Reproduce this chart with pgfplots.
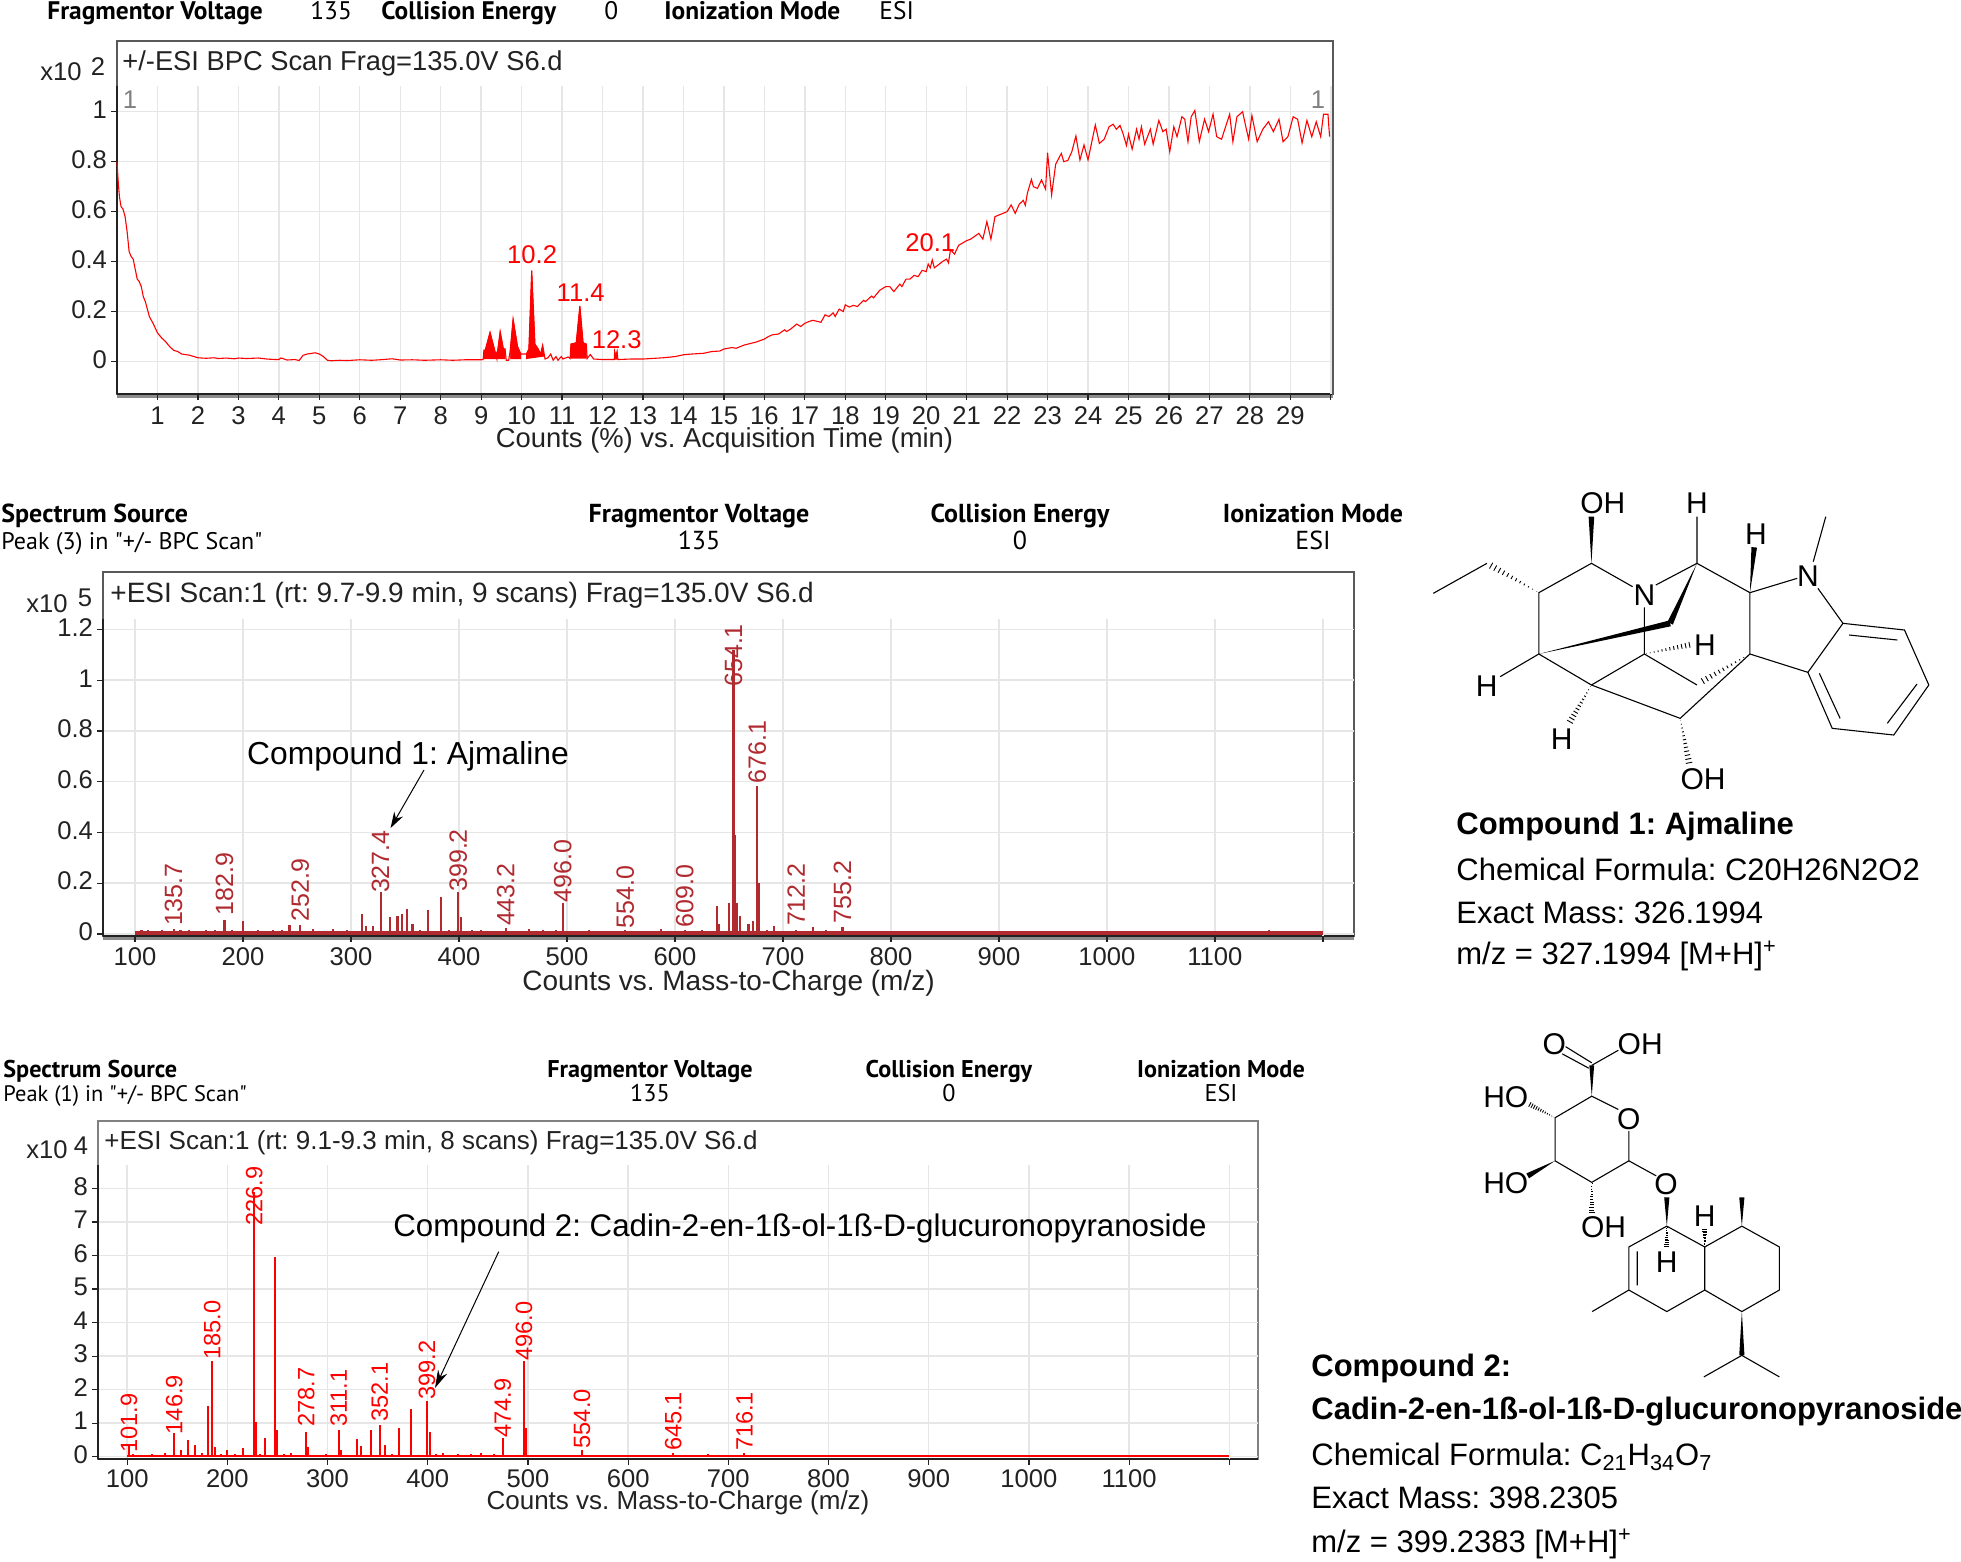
\documentclass[border=0pt]{standalone}
\usepackage{fontspec}
\setmainfont{Liberation Sans}
\newfontfamily\hdr{PT Sans}
\usepackage{pgfplots}
\pgfplotsset{compat=1.18}
\usetikzlibrary{calc,arrows.meta}
\frenchspacing
\definecolor{gridc}{HTML}{E6E6E6}
\definecolor{specred}{HTML}{B02A30}
\definecolor{txt}{HTML}{222222}
\newcommand{\fs}[1]{\fontsize{#1}{#1}\selectfont}
% bond helpers for the drawn structures
\newcommand{\hashb}[3]{\foreach \t in {0.04,0.12,...,0.98}{%
  \pgfmathsetmacro\w{\t*#3}%
  \coordinate (m) at ($(#1)!\t!(#2)$);%
  \draw[line width=.45pt] ($(m)!\w pt!90:(#2)$) -- ($(m)!\w pt!-90:(#2)$);}}
\newcommand{\wedgeb}[3]{\fill (#1) -- ($(#2)!#3pt!90:(#1)$) -- ($(#2)!#3pt!-90:(#1)$) -- cycle;}
\pgfplotsset{
  msaxis/.style={
    scale only axis,
    anchor=south west,
    axis x line*=bottom,
    axis y line*=left,
    clip=false,
    xmajorgrids, ymajorgrids,
    major grid style={gridc,line width=.7pt},
    tick align=outside,
    major tick length=3pt,
    tick style={txt,line width=.6pt},
    axis line style={txt,line width=1pt,-},
    scaled ticks=false,
    tick label style={font=\fs{12.8},text=txt},
    /pgf/number format/assume math mode=true,
    /pgf/number format/1000 sep={},
    yticklabel style={/pgf/number format/fixed,xshift=1.5pt,yshift=1pt},
  },
  peaklab/.style 2 args={
    draw=none, forget plot, only marks, mark size=0pt,
    nodes near coords, point meta=explicit symbolic,
    every node near coord/.append style={rotate=90,anchor=west,inner sep=1pt,font=\fs{#2},text=#1},
  },
}
\begin{document}
\begin{tikzpicture}
\useasboundingbox (0,0) rectangle (980.5pt,-781pt);
% frames with the title strips, pixel coordinates
\begin{scope}[x=.5pt,y=-.5pt]
\draw[black!65,line width=1pt] (116.5,41) rectangle (1333,394.5);
\draw[black!45,line width=1.6pt] (117,396.5) -- (1333,396.5);
\draw[black!65,line width=1pt] (102.5,571.5) rectangle (1354,936);
\draw[black!45,line width=1.6pt] (103,938) -- (1354,938);
\draw[black!50,line width=1pt] (98,1121) rectangle (1258,1459);
% header rows
\begin{scope}[every node/.style={inner sep=0pt,text=black,text height=9pt,text depth=3pt}]
\tikzset{h1/.style={font=\hdr\bfseries\fs{12.7}},r1/.style={font=\hdr\fs{12.7}},
  h2/.style={font=\hdr\bfseries\fs{13}},r2/.style={font=\hdr\fs{13}},
  h3/.style={font=\hdr\bfseries\fs{12.1}},r3/.style={font=\hdr\fs{12.1}}}
\node[anchor=west,h1] at (47,14) {Fragmentor Voltage};
\node[anchor=west,r1] at (310,14) {135};
\node[anchor=west,h1] at (381,14) {Collision Energy};
\node[anchor=west,r1] at (604,14) {0};
\node[anchor=west,h1] at (664,14) {Ionization Mode};
\node[anchor=west,r1] at (879,14) {ESI};
\node[anchor=west,h2] at (1,516) {Spectrum Source};
\node[anchor=west,font=\hdr\fs{12}] at (1,543) {Peak (3) in "+/- BPC Scan"};
\node[h2] at (699,516) {Fragmentor Voltage};
\node[r2] at (699,543) {135};
\node[h2] at (1020,516) {Collision Energy};
\node[r2] at (1020,543) {0};
\node[h2] at (1313,516) {Ionization Mode};
\node[r2] at (1313,543) {ESI};
\node[anchor=west,h3] at (3,1071) {Spectrum Source};
\node[anchor=west,font=\hdr\fs{11.2}] at (3,1095) {Peak (1) in "+/- BPC Scan"};
\node[h3] at (650,1071) {Fragmentor Voltage};
\node[r3] at (650,1095) {135};
\node[h3] at (949,1071) {Collision Energy};
\node[r3] at (949,1095) {0};
\node[h3] at (1221,1071) {Ionization Mode};
\node[r3] at (1221,1095) {ESI};
\end{scope}
% strip titles and the exponents
\begin{scope}[every node/.style={inner sep=0pt,text=txt,font=\fs{12.8}}]
\node[anchor=west,font=\fs{13.65}] at (122,63) {+/-ESI BPC Scan Frag=135.0V S6.d};
\node[anchor=west] at (40,72) {x10};
\node at (98,67) {2};
\node[anchor=west,font=\fs{14}] at (110,595) {+ESI Scan:1 (rt: 9.7-9.9 min, 9 scans) Frag=135.0V S6.d};
\node[anchor=west] at (26,604) {x10};
\node at (85,598) {5};
\node[anchor=west,font=\fs{13}] at (104,1143) {+ESI Scan:1 (rt: 9.1-9.3 min, 8 scans) Frag=135.0V S6.d};
\node[anchor=west] at (26,1150) {x10};
\node at (81,1146) {4};
\node[text=black!50] at (130,100) {1};
\node[text=black!50] at (1318,100) {1};
\end{scope}
\end{scope}

% chromatogram
\begin{axis}[msaxis,at={(58.5pt,-197pt)},width=607.5pt,height=154pt,
  xmin=0,xmax=30.03,ymin=-0.13,ymax=1.103,
  xtick={1,2,...,29},extra x ticks={30},extra x tick labels={},
  xticklabel style={yshift=0pt},
  ytick={0,0.2,0.4,0.6,0.8,1},
  yticklabels={0,0.2,0.4,0.6,0.8,1},
  xlabel={Counts (\%) vs. Acquisition Time (min)},
  xlabel style={yshift=11.5pt,font=\fs{13.7},text=txt}]
\addplot[red,line width=.55pt] coordinates {
(0,.80)(.03,.72)(.06,.66)(.1,.62)(.15,.61)(.2,.58)(.25,.52)(.3,.44)(.35,.42)(.4,.41)(.45,.37)(.5,.33)
(.55,.32)(.6,.30)(.65,.26)(.7,.24)(.75,.21)(.8,.18)(.9,.15)(1,.115)(1.1,.095)(1.2,.08)(1.3,.06)(1.4,.045)
(1.5,.04)(1.6,.03)(1.8,.025)(1.9,.02)(2,.015)(2.2,.013)(2.4,.015)(2.5,.012)(2.7,.014)(2.9,.011)(3,.014)(3.2,.012)
(3.5,.014)(3.7,.01)(3.9,.008)(4,.008)(4.05,.014)(4.1,.012)(4.2,.006)(4.4,.008)(4.5,.004)(4.6,.025)(4.7,.03)(4.9,.035)(5,.03)
(5.1,.02)(5.2,.005)(5.3,.003)(5.5,.005)(5.7,.004)(6,.007)(6.3,.005)(6.5,.007)(6.8,.011)(7,.006)(7.3,.007)(7.6,.005)
(8,.007)(8.3,.005)(8.6,.007)(9,.007)(9.05,.008)(9.07,.045)(9.1,.045)(9.22,.117)(9.36,.03)(9.39,.01)(9.41,.045)
(9.47,.12)(9.55,.05)(9.59,.05)(9.62,.005)(9.68,.005)(9.72,.045)(9.79,.17)(9.9,.06)(9.98,.03)(10.05,.03)
(10.12,.03)(10.18,.05)(10.25,.364)(10.33,.07)(10.41,.05)(10.47,.03)(10.52,.065)(10.58,.01)(10.65,.015)
(10.72,.03)(10.78,.005)(10.85,.02)(10.9,.005)(10.98,.02)(11.02,.01)(11.15,.018)(11.2,.012)(11.22,.07)
(11.35,.075)(11.44,.223)(11.52,.075)(11.6,.07)(11.62,.012)(11.7,.028)(11.78,.01)(12,.008)(12.29,.008)
(12.3,.04)(12.33,.02)(12.36,.04)(12.38,.008)(12.7,.01)(13,.01)(13.3,.013)(13.5,.015)(13.8,.02)(14,.027)(14.2,.03)
(14.5,.033)(14.7,.04)(14.9,.042)(15,.05)(15.2,.056)(15.3,.053)(15.5,.066)(15.6,.07)(15.8,.078)(16,.09)
(16.1,.1)(16.2,.107)(16.35,.11)(16.5,.127)(16.55,.12)(16.65,.13)(16.8,.15)(16.9,.14)(17,.153)(17.1,.16)
(17.2,.165)(17.4,.157)(17.5,.187)(17.6,.18)(17.7,.195)(17.75,.18)(17.85,.21)(17.95,.2)(18,.227)(18.1,.218)(18.2,.225)
(18.3,.22)(18.45,.245)(18.5,.24)(18.65,.262)(18.7,.255)(18.85,.285)(19,.30)(19.1,.30)(19.2,.28)(19.35,.31)(19.4,.3)
(19.5,.33)(19.6,.33)(19.7,.345)(19.8,.34)(19.9,.365)(20,.36)(20.05,.39)(20.1,.375)(20.15,.407)(20.2,.375)(20.3,.387)
(20.4,.4)(20.5,.41)(20.55,.395)(20.6,.447)(20.7,.43)(20.8,.465)(21,.484)(21.1,.49)(21.3,.513)(21.4,.49)(21.5,.56)(21.6,.49)
(21.7,.58)(21.85,.59)(22,.60)(22.1,.627)(22.2,.593)(22.3,.63)(22.4,.645)(22.45,.625)(22.5,.673)(22.6,.729)(22.65,.7)
(22.75,.693)(22.85,.727)(22.95,.69)(23,.836)(23.1,.667)(23.2,.79)(23.34,.833)(23.4,.8)
(23.5,.805)(23.6,.84)(23.7,.903)(23.8,.807)(23.9,.867)(24,.807)(24.18,.947)(24.28,.873)(24.4,.89)(24.52,.94)
(24.62,.95)(24.7,.93)(24.79,.945)(24.86,.915)(24.95,.865)(25,.91)(25.09,.85)(25.2,.93)(25.26,.89)(25.32,.94)(25.4,.87)
(25.54,.93)(25.61,.87)(25.75,.965)(25.85,.92)(25.93,.93)(26.02,.84)(26.12,.94)(26.2,.90)(26.32,.98)
(26.39,.97)(26.47,.88)(26.55,.98)(26.64,1.005)(26.75,.88)(26.88,.97)(26.98,.92)(27.09,.99)(27.18,.90)
(27.3,.89)(27.5,.99)(27.58,.88)(27.68,.98)(27.82,1)(27.9,.94)(27.97,.89)(28.05,.985)(28.18,.88)
(28.32,.93)(28.46,.96)(28.58,.92)(28.72,.97)(28.82,.88)(28.94,.90)(29.07,.98)(29.18,.97)(29.29,.875)
(29.41,.965)(29.53,.90)(29.64,.96)(29.75,.90)(29.82,.99)(29.93,.99)(29.97,.90)};
% integrated peak areas
\addplot[red,fill=red,line width=.3pt] coordinates {(9.07,.01)(9.07,.045)(9.1,.045)(9.22,.117)(9.36,.03)(9.41,.045)(9.47,.12)(9.55,.05)(9.59,.05)(9.59,.01)};
\addplot[red,fill=red,line width=.3pt] coordinates {(9.72,.01)(9.72,.045)(9.79,.17)(9.9,.06)(9.98,.03)(9.98,.01)};
\addplot[red,fill=red,line width=.3pt] coordinates {(10.12,.01)(10.12,.03)(10.18,.05)(10.25,.364)(10.33,.07)(10.41,.05)(10.47,.03)(10.52,.065)(10.56,.02)};
\addplot[red,fill=red,line width=.3pt] coordinates {(11.22,.012)(11.22,.07)(11.35,.075)(11.44,.223)(11.52,.075)(11.6,.07)(11.6,.012)};
\addplot[red,fill=red,line width=.3pt] coordinates {(12.3,.008)(12.3,.04)(12.33,.02)(12.36,.04)(12.36,.008)};
\addplot[draw=none,forget plot,only marks,mark size=0pt,nodes near coords,point meta=explicit symbolic,
  every node near coord/.append style={anchor=center,inner sep=0pt,font=\fs{12.8},text=red}]
  table[meta=lab,row sep=\\] {x y lab\\ 10.26 .427 10.2\\ 11.46 .276 11.4\\ 12.35 .087 12.3\\ 20.1 .476 20.1\\};
\end{axis}

% spectrum of compound 1
\begin{axis}[msaxis,at={(51.5pt,-467.85pt)},width=625.5pt,height=158.2pt,
  xmin=70.3,xmax=1228.8,ymin=-0.007,ymax=1.24,
  xtick={100,200,...,1100},extra x ticks={1200},extra x tick labels={},
  xticklabel style={yshift=.5pt},
  ytick={0,0.2,0.4,0.6,0.8,1,1.2},
  yticklabels={0,0.2,0.4,0.6,0.8,1,1.2},
  xlabel={Counts vs. Mass-to-Charge (m/z)},
  xlabel style={yshift=10.5pt,font=\fs{14},text=txt}]
\addplot[specred,line width=1.8pt,forget plot] coordinates {(100,.004)(1200,.004)};
\addplot[ycomb,mark=none,specred,line width=1.1pt] coordinates {
(106,.014)(112,.014)(118,.012)(125,.016)(135.7,.02)(142,.014)(150,.015)(158,.012)(166,.017)(174,.014)(182.9,.055)(190,.014)(200,.05)
(207,.012)(214,.014)(228,.016)(236,.014)(243,.035)(252.9,.035)(265,.02)(274,.012)(283,.018)(296,.014)(304,.012)(310,.08)(314,.03)
(320,.03)(327.4,.167)(336,.065)(343,.07)(347,.08)(352,.10)(357,.04)(364,.014)(371,.095)(383,.147)(391,.014)(399.2,.167)(402,.068)
(412,.014)(420,.014)(432,.012)(443.2,.022)(455,.012)(465,.02)(478,.014)(490,.014)(496,.12)(508,.012)(520,.014)(535,.012)
(554,.014)(570,.012)(587,.02)(598,.012)(609,.014)(625,.014)(639,.11)(641,.04)(650,.12)(654.1,1.12)(655.5,.39)(657,.12)
(660,.07)(668,.04)(672,.05)(676.1,.583)(678,.2)(685,.014)(692,.03)(700,.012)(712.2,.016)(720,.012)(728,.028)(740,.014)(755.2,.028)
(770,.012)(800,.012)(850,.01)(900,.01)(1000,.01)(1150,.014)};
\addplot[peaklab={specred}{12.5}] table[meta=lab,row sep=\\] {x y lab\\
135.7 .022 135.7\\ 182.9 .065 182.9\\ 252.9 .04 252.9\\ 327.4 .152 327.4\\ 399.2 .157 399.2\\ 443.2 .022 443.2\\
496 .115 496.0\\ 554 .012 554.0\\ 609 .017 609.0\\ 654.1 .965 654.1\\ 676.1 .585 676.1\\ 712.2 .022 712.2\\ 755.2 .032 755.2\\};
\end{axis}

% spectrum of compound 2
\begin{axis}[msaxis,at={(49pt,-729.35pt)},width=580pt,height=146.85pt,
  xmin=70.9,xmax=1228.6,ymin=-0.06,ymax=8.7,
  xtick={100,200,...,1100},extra x ticks={1200},extra x tick labels={},
  xticklabel style={yshift=1.1pt},
  ytick={0,1,...,8},
  xlabel={Counts vs. Mass-to-Charge (m/z)},
  xlabel style={yshift=11.6pt,font=\fs{13},text=txt}]
\addplot[red,line width=1.2pt,forget plot] coordinates {(100,.02)(1200,.02)};
\addplot[ycomb,mark=none,red,line width=1pt] coordinates {
(101.9,.35)(106,.07)(112,.06)(118,.05)(125,.07)(131,.05)(138,.1)(146.9,.7)(154,.2)(161,.5)(168,.35)(175,.1)(181,1.51)(185,2.84)(188,.3)
(194,.07)(200,.2)(208,.07)(216,.25)(226.9,7.9)(228.5,1.04)(233,.08)(238,.55)(248,5.97)(250,.8)(257,.07)(264,.1)(272,.06)(278.7,.75)(280,.3)
(290,.05)(298,.08)(305,.05)(311.1,.8)(313,.2)(320,.06)(329,.52)(333,.33)(343,.8)(352.1,.95)(357,.35)(364,.07)(371,.85)(383,1.41)(391,.06)
(399.2,1.67)(402,.75)(408,.07)(415,.1)(422,.06)(430,.08)(443,.07)(453,.12)(466,.08)(474.9,.55)(485,.06)(496,2.84)(498,.85)(507,.06)(520,.06)
(530,.05)(541,.06)(554,.2)(570,.05)(590,.06)(610,.05)(630,.05)(645.1,.1)(660,.05)(680,.07)(700,.05)(716.1,.1)(760,.05)(820,.03)(900,.04)};
\addplot[peaklab={red}{11.8}] table[meta=lab,row sep=\\] {x y lab\\
101.9 .05 101.9\\ 146.9 .6 146.9\\ 185 2.83 185.0\\ 226.9 6.82 226.9\\ 278.7 .83 278.7\\ 311.1 .82 311.1\\
352.1 .98 352.1\\ 399.2 1.63 399.2\\ 474.9 .49 474.9\\ 496 2.79 496.0\\ 554 .18 554.0\\ 645.1 .1 645.1\\ 716.1 .1 716.1\\};
\end{axis}

\begin{scope}[x=.5pt,y=-.5pt]
% callouts on the spectra
\node[font=\fs{15.9},text=black] at (408,756) {Compound 1: Ajmaline};
\draw[-{Stealth[length=8pt,width=5pt]},line width=.5pt] (424,770) -- (390.6,828);
\node[font=\fs{15.63},text=black] at (800,1228) {Compound 2: Cadin-2-en-1ß-ol-1ß-D-glucuronopyranoside};
\draw[-{Stealth[length=9pt,width=5pt]},line width=.5pt] (498.7,1251.7) -- (435,1388);
% captions
\begin{scope}[every node/.style={anchor=west,inner sep=0pt,font=\fs{15.5},text=black}]
\node[font=\bfseries\fs{15.5}] at (1456,826) {Compound 1: Ajmaline};
\node at (1456,869) {Chemical Formula: C20H26N2O2};
\node at (1456,913) {Exact Mass: 326.1994};
\node at (1456,956) {m/z = 327.1994 [M+H]\textsuperscript{+}};
\node[font=\bfseries\fs{15.5}] at (1311,1368) {Compound 2:};
\node[font=\bfseries\fs{15.5}] at (1311,1412) {Cadin-2-en-1ß-ol-1ß-D-glucuronopyranoside};
\node at (1311,1457) {Chemical Formula: C\textsubscript{21}H\textsubscript{34}O\textsubscript{7}};
\node at (1311,1498) {Exact Mass: 398.2305};
\node at (1311,1544) {m/z = 399.2383 [M+H]\textsuperscript{+}};
\end{scope}
\end{scope}

% ajmaline
\begin{scope}[shift={(700pt,-235pt)},x=.1789pt,y=-.16667pt,line width=.55pt,
  every node/.style={inner sep=0pt,font=\fs{15},text=black}]
\draw (93,370)--(243,280);
\hashb{388,368}{243,280}{1.8}
\draw (388,552)--(388,368)--(535,280)--(650,350);
\wedgeb{535,280}{535,140}{1.4}
\draw (715,345)--(830,280)--(830,140);
\draw (830,280)--(978,368)--(1110,325);
\wedgeb{978,368}{990,232}{1.4}
\draw (1155,275)--(1190,140);
\draw (1168,355)--(1238,460)--(1410,480)--(1478,645)--(1380,795)--(1208,775)--(1140,607)--(1238,460);
\draw (1255,495)--(1390,510) (1445,642)--(1362,760) (1230,745)--(1172,610);
\draw (978,368)--(978,552)--(1140,607);
\draw (683,412)--(683,552)--(830,645);
\hashb{683,552}{820,522}{1.6}
\hashb{978,552}{835,640}{1.7}
\draw (978,552)--(783,745)--(535,645)--(388,552)--(280,620);
\draw (535,645)--(683,552);
\hashb{535,645}{470,765}{1.8}
\hashb{783,745}{810,890}{1.8}
\wedgeb{388,552}{755,460}{1.5}
\wedgeb{830,280}{755,460}{1.5}
\node at (567,100) {OH}; \node at (830,100) {H}; \node at (995,192) {H};
\node at (1140,320) {N}; \node at (683,375) {N}; \node at (852,525) {H};
\node at (242,648) {H}; \node at (452,808) {H}; \node at (847,928) {OH};
\end{scope}

% glucuronide
\begin{scope}[shift={(650pt,-500pt)},x=.2108pt,y=-.17947pt,line width=.55pt,
  every node/.style={inner sep=0pt,font=\fs{15},text=black}]
\draw (630,130)--(692,175) (622,150)--(685,190) (692,182)--(755,140);
\wedgeb{692,268}{692,182}{1.2}
\draw (755,305)--(692,268)--(605,328)--(605,448)--(692,508)--(780,448)--(780,365);
\draw (780,448)--(845,490);
\hashb{605,328}{540,288}{1.4}
\wedgeb{605,448}{540,490}{1.4}
\hashb{692,508}{692,600}{1.5}
\wedgeb{870,630}{870,550}{1.3}
\draw (870,630)--(780,688)--(780,808)--(870,868)--(960,808)--(960,688)--(870,630);
\draw (800,700)--(800,795) (780,808)--(693,868);
\hashb{870,630}{870,690}{1.4}
\hashb{960,688}{960,635}{1.4}
\draw (960,688)--(1048,630)--(1137,688)--(1137,808)--(1048,868)--(960,808);
\wedgeb{1048,630}{1048,550}{1.3}
\wedgeb{1048,868}{1048,990}{1.3}
\draw (958,1050)--(1048,990)--(1137,1050);
\node at (603,122) {O}; \node at (807,122) {OH}; \node at (780,332) {O};
\node at (488,272) {HO}; \node at (488,510) {HO}; \node at (720,632) {OH};
\node at (868,512) {O}; \node at (870,730) {H}; \node at (960,603) {H};
\end{scope}
\end{tikzpicture}
\end{document}
